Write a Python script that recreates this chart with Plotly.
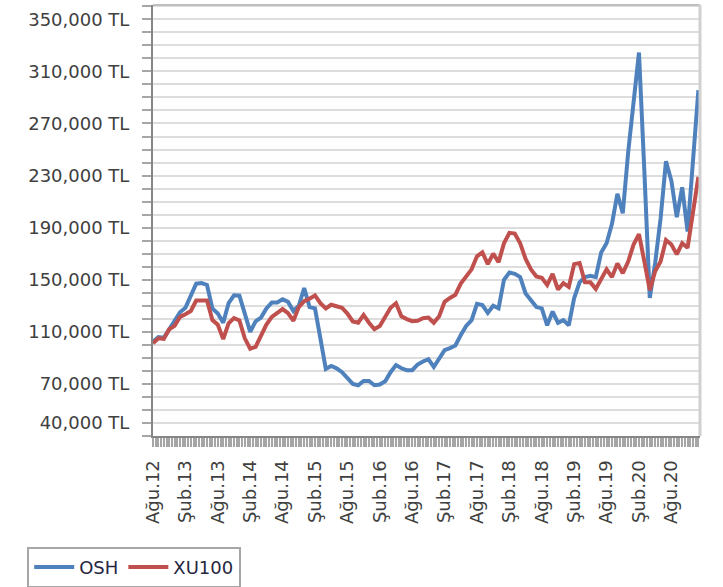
import plotly.graph_objects as go

# Monthly observations, Aug 2012 .. Jan 2021 (index 0 = Ağu.12)
osh = [102600, 106000, 105400, 112000, 118000, 125000, 128500, 137000, 147000, 147500,
       146000, 128000, 124000, 117000, 132000, 138000, 137700, 124000, 110000, 118000,
       121000, 128000, 132500, 132500, 135000, 133000, 126000, 130000, 143600, 129000,
       128000, 105000, 81500, 83800, 82000, 79000, 75000, 70000, 69000, 72300,
       72300, 69000, 69500, 72000, 79000, 84500, 82000, 80500, 80500, 84800,
       87200, 89000, 83000, 89500, 96000, 97500, 99500, 107500, 114500, 119000,
       131500, 130500, 124500, 130000, 128000, 150000, 155500, 154500, 152000, 139500,
       134000, 129000, 128000, 115000, 125600, 117000, 119000, 115000, 136000, 148000,
       152000, 153000, 152000, 171000, 178000, 193000, 216000, 201000, 248000, 283000,
       324500, 233000, 136000, 163000, 197000, 241000, 226000, 198000, 221000, 187000,
       242000, 295600]

xu100 = [101300, 105000, 104600, 112000, 114600, 121500, 123500, 126000, 134000, 134000,
         134000, 119000, 115400, 104400, 116500, 120500, 118700, 105000, 97000, 98500,
         107700, 115600, 121500, 124400, 127500, 124400, 118500, 129000, 133500, 135500,
         138000, 132000, 128000, 130800, 130000, 128500, 124000, 118000, 117000, 123000,
         117000, 112000, 114500, 121000, 128500, 132000, 122000, 119800, 118200, 118500,
         120500, 121000, 117000, 122000, 133000, 136000, 138500, 147000, 153000, 158000,
         168000, 171000, 162000, 170000, 163500, 178000, 186000, 185500, 178000, 166000,
         158000, 152500, 151500, 146000, 154500, 142500, 147400, 144500, 162000, 162800,
         148000, 148000, 143000, 150000, 158000, 152000, 162500, 155000, 164000, 177000,
         185000, 164000, 142000, 156500, 164000, 180500, 177000, 169500, 178000, 174500,
         200000, 229000]

x_tick_labels = ["Ağu.12", "Şub.13", "Ağu.13", "Şub.14", "Ağu.14", "Şub.15", "Ağu.15",
                 "Şub.16", "Ağu.16", "Şub.17", "Ağu.17", "Şub.18", "Ağu.18", "Şub.19",
                 "Ağu.19", "Şub.20", "Ağu.20"]
y_label_values = [350000, 310000, 270000, 230000, 190000, 150000, 110000, 70000, 40000]

months = list(range(len(osh)))
x_tickvals = [6 * k for k in range(len(x_tick_labels))]

y_tickvals = list(range(30000, 360001, 10000))
y_ticktext = [f"{v:,} TL" if v in y_label_values else "" for v in y_tickvals]

font_family = "DejaVu Sans"

fig = go.Figure()
fig.add_trace(go.Scatter(x=months, y=osh, mode="lines", name="OSH",
                         line=dict(color="#4F81BD", width=4)))
fig.add_trace(go.Scatter(x=months, y=xu100, mode="lines", name="XU100",
                         line=dict(color="#C0504D", width=4)))

fig.update_layout(
    width=723, height=587,
    margin=dict(l=153, r=23, t=5, b=151, autoexpand=False),
    paper_bgcolor="white", plot_bgcolor="white",
    font=dict(family=font_family, size=18, color="#404040"),
    showlegend=True,
    legend=dict(orientation="h", x=-0.230, xanchor="left", y=-0.257, yanchor="top",
                bordercolor="#a6a6a6", borderwidth=2, bgcolor="white",
                font=dict(family=font_family, size=18, color="#262640"),
                itemwidth=40, tracegroupgap=0),
    xaxis=dict(range=[0, 101.3], tickmode="array", tickvals=x_tickvals,
               ticktext=x_tick_labels, tickangle=-90, showgrid=False,
               zeroline=False, showline=True, linecolor="#868686", linewidth=2,
               ticks="outside", ticklen=9, tickwidth=1.5, tickcolor="#a6a6a6",
               ticklabelstandoff=6,
               minor=dict(tickmode="linear", tick0=0, dtick=0.5, ticks="outside",
                          ticklen=9, tickwidth=1.5, tickcolor="#a6a6a6", showgrid=False)),
    yaxis=dict(range=[30000, 361000], tickmode="array", tickvals=y_tickvals,
               ticktext=y_ticktext, showgrid=True, gridcolor="#dddddd", gridwidth=1.8,
               zeroline=False, showline=True, linecolor="#868686", linewidth=2,
               ticks="outside", ticklen=9, tickwidth=2, tickcolor="#a6a6a6",
               ticklabelstandoff=9),
    shapes=[
        dict(type="line", xref="paper", yref="paper", x0=0, x1=1, y0=1, y1=1,
             line=dict(color="#bfbfbf", width=2)),
        dict(type="line", xref="paper", yref="paper", x0=1, x1=1, y0=0, y1=1,
             line=dict(color="#d0d0d0", width=3)),
    ],
)

fig.write_html("out.html", config={"displayModeBar": False},
               post_script="document.body.style.margin='0px';document.body.style.padding='0px';")
